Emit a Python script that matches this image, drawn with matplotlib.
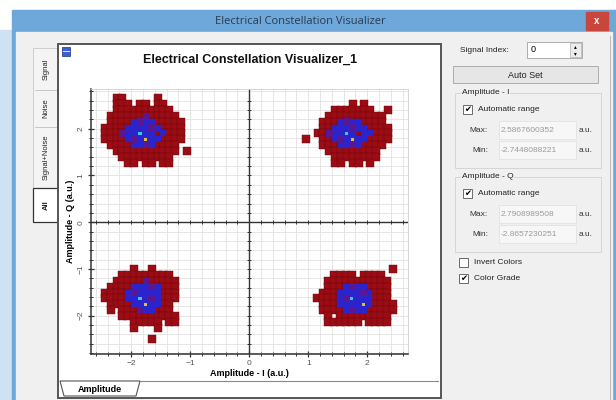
import numpy as np
import matplotlib.pyplot as plt
from matplotlib.patches import Rectangle, Polygon
from matplotlib.ticker import MultipleLocator

plt.rcParams['font.family'] = ['Liberation Sans', 'DejaVu Sans']

# =========================
# DATA
# =========================
# Each cluster is a colour-grade map: one character per cell of the density grid.
#   r = low density (red), b = medium (blue), m = purple, c / y = hottest specks
# origin = (I, Q) of the top-left cell centre, in a.u.
cell_i = 0.0994
cell_q = 0.1255

ul_origin = (-2.446, 2.652)
ul_map = [
    "..rr.....r.....",
    "..rrr.rr.rr....",
    "..rrrrrrrrrr...",
    ".rrrrrrmrrrrr..",
    ".rrrrbmbbrrrrr.",
    "rrrrbbbbmbrrrr.",
    "rrrmbbcbbrbrrr.",
    "rrrrbmbybbrrrr.",
    ".rrrrbbmbrrrr..",
    "..rrrrrrrrrrr.r",
    "...rrrrrrrrr...",
    "....rr.rr.rr...",
]

ur_origin = (0.859, 2.652)
ur_map = [
    ".................",
    ".........r.r.....",
    "......rrrrrrr..r.",
    ".....rrrrrrrrrr..",
    "....rrrbmbbrrrr..",
    "....rrbbbmbbrrrr.",
    "...rrmbbcbrbbrrr.",
    ".r..rrbmbybbrrrr.",
    "....rrrbbmbrrrr..",
    ".....rrrrrrrrr...",
    "......rrrrrrrr...",
    "......rr.rr.r....",
]

ll_origin = (-2.446, -0.877)
ll_map = [
    "..............",
    ".....r..r.....",
    "...rrrrrrrrr..",
    "..rrrrrmrrrrr.",
    ".rrrrbbbmbrrr.",
    "rrrrbmbbbbrrr.",
    "rrrrbbcbmbrrr.",
    ".rrrrbbybbrr..",
    ".r.rrrmbbrrr..",
    "...rrrrrrrrrr.",
    ".....rrrrr.rr.",
    ".....r...r....",
    "..............",
    "........r.....",
]

lr_origin = (0.944, -0.877)
lr_map = [
    "................",
    "...............r",
    ".....rrrr.rrrr..",
    "....rrrrrrrrrrr.",
    "....rrrbmbbrrrr.",
    "...rrrbbbbmbrrr.",
    "..rrrrbmcbbbrrr.",
    "...rrrbbbbybrrrr",
    "...rrrrbmbbrrrrr",
    "....r.rrrrrrrrr.",
    "....rrrrrr.rrrr.",
]

clusters = [(ul_origin, ul_map), (ur_origin, ur_map),
            (ll_origin, ll_map), (lr_origin, lr_map)]

x_ticks = [-2, -1, 0, 1, 2]
y_ticks = [-2, -1, 0, 1, 2]

panel_i = [("Max:", "2.5867600352"), ("Min:", "-2.7448088221")]
panel_q = [("Max:", "2.7908989508"), ("Min:", "-2.8657230251")]


def cells(origin, rows, codes):
    x0, y0 = origin
    xs, ys = [], []
    for r, row in enumerate(rows):
        for c, ch in enumerate(row):
            if ch in codes:
                xs.append(x0 + c * cell_i)
                ys.append(y0 - r * cell_q)
    return xs, ys


# =========================
# WINDOW CHROME (pixel coords)
# =========================
fig = plt.figure(figsize=(6.16, 4.0), dpi=100)
ui = fig.add_axes([0, 0, 1, 1])
ui.set_xlim(0, 616)
ui.set_ylim(400, 0)
ui.axis('off')

ui.add_patch(Rectangle((0, 0), 616, 400, color='white'))
ui.add_patch(Rectangle((0, 30), 12, 370, color='#cfe2f3'))
ui.add_patch(Rectangle((12, 10), 604, 390, color='#6ea7da'))
ui.add_patch(Rectangle((16, 32), 596, 368, color='#f0f0f0'))
ui.text(300, 21, "Electrical Constellation Visualizer", ha='center', va='center',
        fontsize=8, color='#2a3b4f', family=['Open Sans', 'DejaVu Sans'])
ui.add_patch(Rectangle((586, 12), 22, 18, color='#c9463d'))
ui.text(597, 21, "x", ha='center', va='center', fontsize=7, color='white', weight='bold')

# left vertical tabs
ui.add_patch(Rectangle((33, 48), 25, 140, facecolor='#f4f4f4', edgecolor='#c8c8c8', lw=0.6))
ui.add_patch(Rectangle((33, 188), 25, 34, facecolor='#ffffff', edgecolor='#333333', lw=0.9))
for y in [90, 127]:
    ui.plot([35, 56], [y, y], color='#c0c0c0', lw=0.6)
for label, y, bold in [("Signal", 69, False), ("Noise", 108, False),
                       ("Signal+Noise", 157, False), ("All", 205, True)]:
    ui.text(46, y, label, rotation=90, ha='center', va='center', fontsize=5.5,
            color='#222222', weight='bold' if bold else 'normal')

# plot panel
ui.add_patch(Rectangle((58, 44), 383, 354, facecolor='white', edgecolor='#555555', lw=1.4))
ui.add_patch(Rectangle((62, 47), 8, 9, facecolor='#3b5fd0', edgecolor='#1b2f80', lw=0.5))
ui.plot([63, 69], [51, 51], color='white', lw=0.6)
ui.text(250, 60, "Electrical Constellation Visualizer_1", ha='center', va='center',
        fontsize=9, weight='bold', color='#111111')
ui.plot([140, 438], [381, 381], color='#8a8a8a', lw=0.8)
ui.add_patch(Polygon([[60, 381], [64, 396], [136, 396], [140, 381]], closed=True,
                     facecolor='white', edgecolor='#555555', lw=0.8))
ui.text(100, 389, "Amplitude", ha='center', va='center', fontsize=6.5, weight='bold')

# right control panel
ui.plot([610, 610], [36, 400], color='#b0b0b0', lw=0.6)
ui.text(460, 50, "Signal Index:", ha='left', va='center', fontsize=6, color='#222222')
ui.add_patch(Rectangle((527, 42), 55, 16, facecolor='white', edgecolor='#a0a0a0', lw=0.6))
ui.add_patch(Rectangle((570, 43), 11, 14, facecolor='#ececec', edgecolor='#b0b0b0', lw=0.5))
ui.text(531, 50, "0", ha='left', va='center', fontsize=6.5)
ui.text(575.5, 46.5, "\u25b4", ha='center', va='center', fontsize=4)
ui.text(575.5, 53.5, "\u25be", ha='center', va='center', fontsize=4)
ui.add_patch(Rectangle((453, 66), 145, 17, facecolor='#e6e6e6', edgecolor='#adadad', lw=0.7))
ui.text(525, 75, "Auto Set", ha='center', va='center', fontsize=6.5, color='#222222')


def group(y, title, rows):
    ui.add_patch(Rectangle((455, y), 146, 75, facecolor='none', edgecolor='#d5d5d5', lw=0.7))
    ui.text(462, y, title, ha='left', va='center', fontsize=6, color='#222222',
            bbox=dict(facecolor='#f0f0f0', edgecolor='none', pad=0.5))
    ui.add_patch(Rectangle((463, y + 12), 9, 9, facecolor='white', edgecolor='#555555', lw=0.6))
    ui.text(467.5, y + 16.5, "\u2714", ha='center', va='center', fontsize=6,
            family=['DejaVu Sans'])
    ui.text(478, y + 16.5, "Automatic range", ha='left', va='center', fontsize=6, color='#222222')
    for k, (name, val) in enumerate(rows):
        yy = y + 37 + 20 * k
        ui.text(488, yy, name, ha='right', va='center', fontsize=6, color='#333333')
        ui.add_patch(Rectangle((499, yy - 9), 77, 18, facecolor='#f7f7f7', edgecolor='#e2e2e2', lw=0.6))
        ui.text(501, yy, val, ha='left', va='center', fontsize=6, color='#9a9a9a')
        ui.text(579, yy, "a.u.", ha='left', va='center', fontsize=6, color='#333333')


group(93, "Amplitude - I", panel_i)
group(177, "Amplitude - Q", panel_q)

for y, label, checked in [(262, "Invert Colors", False), (278, "Color Grade", True)]:
    ui.add_patch(Rectangle((459, y - 4.5), 9, 9, facecolor='white', edgecolor='#555555', lw=0.6))
    if checked:
        ui.text(463.5, y, "\u2714", ha='center', va='center', fontsize=6, family=['DejaVu Sans'])
    ui.text(474, y, label, ha='left', va='center', fontsize=6, color='#222222')

# =========================
# CONSTELLATION AXES
# =========================
ax = fig.add_axes([91 / 616, 1 - 354 / 400, (408 - 91) / 616, (354 - 89) / 400])
ax.set_xlim(-2.68, 2.69)
ax.set_ylim(-2.82, 2.85)
ax.set_xticks(x_ticks)
ax.set_yticks(y_ticks)
ax.xaxis.set_minor_locator(MultipleLocator(0.2))
ax.yaxis.set_minor_locator(MultipleLocator(0.2))
ax.grid(which='both', color='#e2e2e2', lw=0.6, zorder=0)
ax.set_axisbelow(True)

for side in ['top', 'right']:
    ax.spines[side].set_color('#d0d0d0')
    ax.spines[side].set_linewidth(0.6)
for side in ['left', 'bottom']:
    ax.spines[side].set_color('#333333')
    ax.spines[side].set_linewidth(1.1)

ax.tick_params(which='major', direction='inout', length=5, width=0.9, color='#333333',
               labelsize=6, labelcolor='#555555', pad=2)
ax.tick_params(which='minor', direction='inout', length=3, width=0.7, color='#333333')
ax.tick_params(axis='y', labelrotation=90)
for lab in ax.get_yticklabels():
    lab.set_va('center')

# zero axes with their own tick marks
minor = np.arange(-2.6, 2.61, 0.2)
ax.axhline(0, color='#333333', lw=1.0, zorder=1)
ax.axvline(0, color='#333333', lw=1.0, zorder=1)
ax.plot(minor, np.zeros_like(minor), ls='none', marker='|', ms=3, mew=0.7, color='#333333', zorder=1)
ax.plot(np.zeros_like(minor), minor, ls='none', marker='_', ms=3, mew=0.7, color='#333333', zorder=1)

ax.set_xlabel("Amplitude - I (a.u.)", fontsize=6.5, weight='bold', labelpad=1)
ax.set_ylabel("Amplitude - Q (a.u.)", fontsize=6.5, weight='bold', labelpad=2)

for origin, rows in clusters:
    xs, ys = cells(origin, rows, "rbmcy")
    ax.scatter(xs, ys, marker='s', s=30, color='#9b0c14', edgecolors='#6a0509', linewidths=0.3, zorder=3)
    xs, ys = cells(origin, rows, "bcy")
    ax.scatter(xs, ys, marker='s', s=22, color='#2b23cc', edgecolors='#2b23cc', linewidths=0.2, zorder=4)
    xs, ys = cells(origin, rows, "m")
    ax.scatter(xs, ys, marker='s', s=22, color='#5a1794', edgecolors='none', zorder=4)
    xs, ys = cells(origin, rows, "c")
    ax.scatter(xs, ys, marker='s', s=5, color='#39c6e0', edgecolors='none', zorder=5)
    xs, ys = cells(origin, rows, "y")
    ax.scatter(xs, ys, marker='s', s=5, color='#d9c23c', edgecolors='none', zorder=5)

fig.savefig("out.png", dpi=100)
